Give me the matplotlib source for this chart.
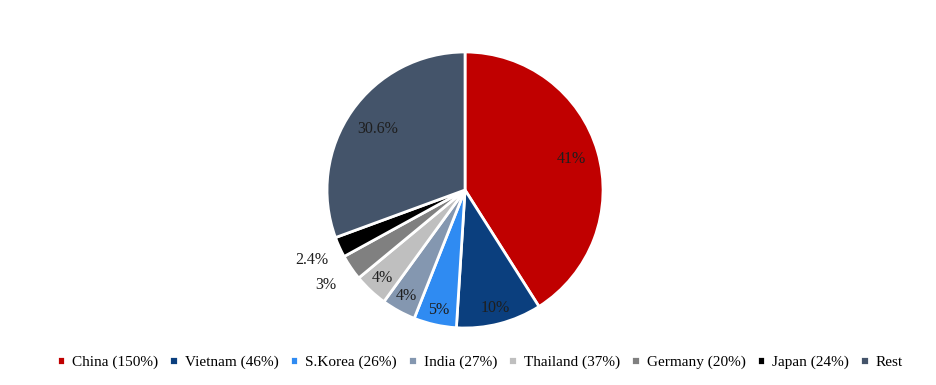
import numpy as np
import matplotlib.pyplot as plt

# share of imports by origin
labels = ['China (150%)', 'Vietnam (46%)', 'S.Korea (26%)', 'India (27%)',
          'Thailand (37%)', 'Germany (20%)', 'Japan (24%)', 'Rest']
shares = [41, 10, 5, 4, 4, 3, 2.4, 30.6]
share_text = ['41%', '10%', '5%', '4%', '4%', '3%', '2.4%', '30.6%']
colors = ['#C00000', '#0B3F7E', '#2F8BF2', '#8497B0', '#BFBFBF', '#808080', '#000000', '#44546A']
label_dist = [0.80, 0.88, 0.89, 0.88, 0.87, 1.22, 1.22, 0.77]

plt.rcParams['font.family'] = ['Liberation Serif', 'DejaVu Serif']

fig = plt.figure(figsize=(9.37, 3.85), dpi=100)
ax = fig.add_axes([0.349, 0.148, 0.2946, 0.717])
wedges, _ = ax.pie(shares, colors=colors, startangle=90, counterclock=False,
                   radius=1.0, wedgeprops=dict(edgecolor='white', linewidth=2))
ax.set_xlim(-1, 1)
ax.set_ylim(-1, 1)
ax.set_aspect('equal')
ax.axis('off')

for w, txt, d in zip(wedges, share_text, label_dist):
    mid = np.deg2rad((w.theta1 + w.theta2) / 2)
    ax.text(d * np.cos(mid), d * np.sin(mid), txt, ha='center', va='center',
            fontsize=11.5, color='#1e1e1e')

fig.legend(wedges, labels, loc='center', bbox_to_anchor=(0.512, 0.058), ncol=8,
           frameon=False, fontsize=11, handlelength=0.55, handleheight=0.55,
           handletextpad=0.45, columnspacing=0.75)

plt.savefig('out.png', dpi=100)
